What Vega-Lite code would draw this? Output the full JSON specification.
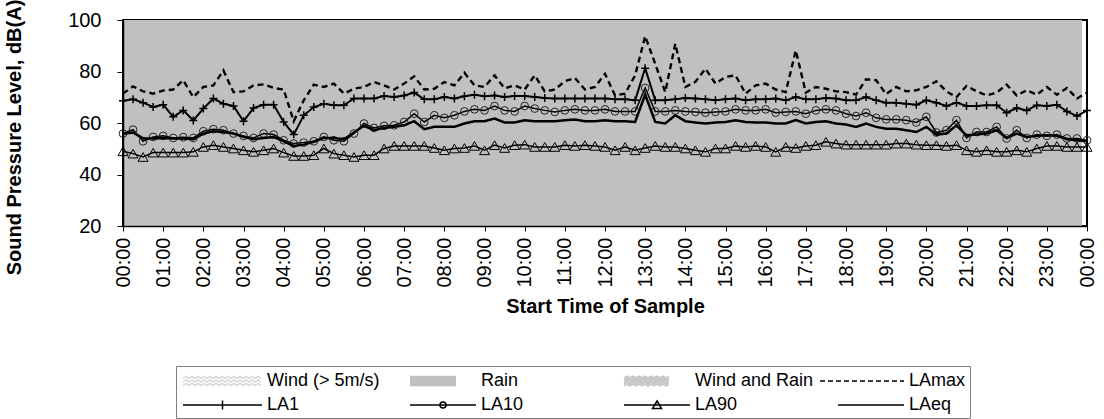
{
  "$schema": "https://vega.github.io/schema/vega-lite/v6.json",
  "width": 964,
  "height": 206,
  "autosize": {"type": "none"},
  "padding": {"left": 123, "top": 20, "right": 17, "bottom": 193},
  "config": {
    "font": "Liberation Sans",
    "view": {"stroke": "black", "strokeWidth": 2},
    "axis": {"grid": false, "labelFont": "Liberation Sans", "titleFont": "Liberation Sans", "labelColor": "black", "titleColor": "black", "tickColor": "black", "domainColor": "black"}
  },
  "datasets": {
    "noise": [
      {"t":"2000-01-01T00:00","LAmax":71.4,"LA1":68.6,"LA10":55.9,"LA90":49.0,"LAeq":55.8},
      {"t":"2000-01-01T00:15","LAmax":74.2,"LA1":69.2,"LA10":57.4,"LA90":48.1,"LAeq":56.3},
      {"t":"2000-01-01T00:30","LAmax":72.3,"LA1":67.9,"LA10":52.9,"LA90":46.8,"LAeq":54.0},
      {"t":"2000-01-01T00:45","LAmax":71.4,"LA1":66.2,"LA10":54.6,"LA90":48.5,"LAeq":54.0},
      {"t":"2000-01-01T01:00","LAmax":72.6,"LA1":67.1,"LA10":55.0,"LA90":48.5,"LAeq":54.2},
      {"t":"2000-01-01T01:15","LAmax":73.0,"LA1":62.4,"LA10":54.2,"LA90":48.5,"LAeq":54.0},
      {"t":"2000-01-01T01:30","LAmax":76.6,"LA1":64.9,"LA10":54.5,"LA90":48.5,"LAeq":54.0},
      {"t":"2000-01-01T01:45","LAmax":70.0,"LA1":61.0,"LA10":54.2,"LA90":48.8,"LAeq":53.7},
      {"t":"2000-01-01T02:00","LAmax":74.0,"LA1":65.6,"LA10":56.8,"LA90":50.7,"LAeq":55.9},
      {"t":"2000-01-01T02:15","LAmax":74.6,"LA1":69.5,"LA10":57.6,"LA90":51.4,"LAeq":56.8},
      {"t":"2000-01-01T02:30","LAmax":80.4,"LA1":67.5,"LA10":57.2,"LA90":50.7,"LAeq":56.5},
      {"t":"2000-01-01T02:45","LAmax":72.0,"LA1":66.6,"LA10":55.9,"LA90":50.1,"LAeq":55.9},
      {"t":"2000-01-01T03:00","LAmax":72.3,"LA1":60.7,"LA10":55.0,"LA90":49.4,"LAeq":54.6},
      {"t":"2000-01-01T03:15","LAmax":74.6,"LA1":65.8,"LA10":54.2,"LA90":48.8,"LAeq":53.7},
      {"t":"2000-01-01T03:30","LAmax":75.0,"LA1":67.1,"LA10":55.9,"LA90":49.4,"LAeq":54.2},
      {"t":"2000-01-01T03:45","LAmax":73.6,"LA1":67.1,"LA10":55.5,"LA90":50.1,"LAeq":54.6},
      {"t":"2000-01-01T04:00","LAmax":73.0,"LA1":60.4,"LA10":53.3,"LA90":48.5,"LAeq":52.9},
      {"t":"2000-01-01T04:15","LAmax":60.7,"LA1":55.5,"LA10":52.0,"LA90":47.2,"LAeq":51.1},
      {"t":"2000-01-01T04:30","LAmax":68.8,"LA1":63.0,"LA10":52.4,"LA90":47.2,"LAeq":51.6},
      {"t":"2000-01-01T04:45","LAmax":74.9,"LA1":66.2,"LA10":52.9,"LA90":47.5,"LAeq":52.7},
      {"t":"2000-01-01T05:00","LAmax":74.0,"LA1":67.5,"LA10":54.6,"LA90":50.1,"LAeq":54.2},
      {"t":"2000-01-01T05:15","LAmax":75.3,"LA1":66.9,"LA10":53.3,"LA90":48.1,"LAeq":54.2},
      {"t":"2000-01-01T05:30","LAmax":71.4,"LA1":66.9,"LA10":52.9,"LA90":47.5,"LAeq":53.7},
      {"t":"2000-01-01T05:45","LAmax":73.3,"LA1":69.5,"LA10":55.9,"LA90":46.8,"LAeq":56.3},
      {"t":"2000-01-01T06:00","LAmax":74.0,"LA1":69.5,"LA10":59.8,"LA90":47.5,"LAeq":58.9},
      {"t":"2000-01-01T06:15","LAmax":75.9,"LA1":69.5,"LA10":58.1,"LA90":47.5,"LAeq":57.2},
      {"t":"2000-01-01T06:30","LAmax":74.6,"LA1":70.5,"LA10":58.9,"LA90":50.1,"LAeq":58.1},
      {"t":"2000-01-01T06:45","LAmax":73.0,"LA1":70.1,"LA10":59.1,"LA90":51.1,"LAeq":58.5},
      {"t":"2000-01-01T07:00","LAmax":75.3,"LA1":70.7,"LA10":60.4,"LA90":51.1,"LAeq":59.1},
      {"t":"2000-01-01T07:15","LAmax":78.1,"LA1":71.8,"LA10":63.6,"LA90":51.1,"LAeq":60.7},
      {"t":"2000-01-01T07:30","LAmax":73.0,"LA1":69.2,"LA10":60.4,"LA90":51.1,"LAeq":57.6},
      {"t":"2000-01-01T07:45","LAmax":73.3,"LA1":69.2,"LA10":63.0,"LA90":50.3,"LAeq":58.5},
      {"t":"2000-01-01T08:00","LAmax":75.9,"LA1":70.1,"LA10":62.0,"LA90":49.4,"LAeq":58.5},
      {"t":"2000-01-01T08:15","LAmax":74.6,"LA1":69.5,"LA10":63.0,"LA90":50.1,"LAeq":58.5},
      {"t":"2000-01-01T08:30","LAmax":79.5,"LA1":70.4,"LA10":64.5,"LA90":50.3,"LAeq":59.8},
      {"t":"2000-01-01T08:45","LAmax":74.6,"LA1":71.0,"LA10":65.3,"LA90":51.1,"LAeq":60.7},
      {"t":"2000-01-01T09:00","LAmax":74.0,"LA1":70.4,"LA10":64.9,"LA90":49.4,"LAeq":60.7},
      {"t":"2000-01-01T09:15","LAmax":78.5,"LA1":70.7,"LA10":66.6,"LA90":51.4,"LAeq":61.7},
      {"t":"2000-01-01T09:30","LAmax":73.5,"LA1":70.1,"LA10":64.9,"LA90":50.3,"LAeq":60.2},
      {"t":"2000-01-01T09:45","LAmax":74.6,"LA1":70.5,"LA10":64.5,"LA90":51.4,"LAeq":60.2},
      {"t":"2000-01-01T10:00","LAmax":73.0,"LA1":70.5,"LA10":66.6,"LA90":51.6,"LAeq":61.1},
      {"t":"2000-01-01T10:15","LAmax":78.5,"LA1":70.1,"LA10":65.6,"LA90":50.7,"LAeq":60.7},
      {"t":"2000-01-01T10:30","LAmax":72.3,"LA1":69.7,"LA10":64.9,"LA90":50.7,"LAeq":60.7},
      {"t":"2000-01-01T10:45","LAmax":73.0,"LA1":69.5,"LA10":64.3,"LA90":50.7,"LAeq":60.7},
      {"t":"2000-01-01T11:00","LAmax":76.2,"LA1":69.5,"LA10":64.9,"LA90":51.4,"LAeq":61.1},
      {"t":"2000-01-01T11:15","LAmax":77.5,"LA1":69.5,"LA10":65.3,"LA90":51.1,"LAeq":61.4},
      {"t":"2000-01-01T11:30","LAmax":73.0,"LA1":69.5,"LA10":64.9,"LA90":51.4,"LAeq":60.7},
      {"t":"2000-01-01T11:45","LAmax":74.0,"LA1":69.5,"LA10":64.9,"LA90":51.1,"LAeq":60.7},
      {"t":"2000-01-01T12:00","LAmax":79.1,"LA1":69.5,"LA10":65.3,"LA90":50.7,"LAeq":61.1},
      {"t":"2000-01-01T12:15","LAmax":70.7,"LA1":69.2,"LA10":64.5,"LA90":49.4,"LAeq":60.7},
      {"t":"2000-01-01T12:30","LAmax":71.4,"LA1":69.2,"LA10":64.5,"LA90":50.7,"LAeq":60.7},
      {"t":"2000-01-01T12:45","LAmax":78.5,"LA1":68.8,"LA10":64.5,"LA90":49.4,"LAeq":60.4},
      {"t":"2000-01-01T13:00","LAmax":93.7,"LA1":81.3,"LA10":73.6,"LA90":50.3,"LAeq":71.0},
      {"t":"2000-01-01T13:15","LAmax":83.0,"LA1":68.8,"LA10":64.5,"LA90":51.1,"LAeq":60.4},
      {"t":"2000-01-01T13:30","LAmax":72.0,"LA1":68.8,"LA10":64.5,"LA90":50.7,"LAeq":59.8},
      {"t":"2000-01-01T13:45","LAmax":90.8,"LA1":69.2,"LA10":64.9,"LA90":50.7,"LAeq":63.0},
      {"t":"2000-01-01T14:00","LAmax":74.0,"LA1":69.7,"LA10":64.5,"LA90":50.1,"LAeq":60.7},
      {"t":"2000-01-01T14:15","LAmax":76.0,"LA1":69.5,"LA10":64.3,"LA90":49.4,"LAeq":60.2},
      {"t":"2000-01-01T14:30","LAmax":81.1,"LA1":69.2,"LA10":64.0,"LA90":48.8,"LAeq":59.8},
      {"t":"2000-01-01T14:45","LAmax":75.3,"LA1":68.8,"LA10":64.3,"LA90":50.1,"LAeq":60.2},
      {"t":"2000-01-01T15:00","LAmax":77.9,"LA1":69.2,"LA10":64.5,"LA90":50.1,"LAeq":60.4},
      {"t":"2000-01-01T15:15","LAmax":78.5,"LA1":69.5,"LA10":65.3,"LA90":51.1,"LAeq":61.1},
      {"t":"2000-01-01T15:30","LAmax":71.4,"LA1":68.8,"LA10":64.9,"LA90":50.7,"LAeq":60.4},
      {"t":"2000-01-01T15:45","LAmax":74.6,"LA1":69.2,"LA10":64.9,"LA90":51.1,"LAeq":60.2},
      {"t":"2000-01-01T16:00","LAmax":75.3,"LA1":69.2,"LA10":65.3,"LA90":50.7,"LAeq":60.2},
      {"t":"2000-01-01T16:15","LAmax":73.0,"LA1":69.5,"LA10":64.0,"LA90":48.8,"LAeq":59.8},
      {"t":"2000-01-01T16:30","LAmax":72.0,"LA1":68.8,"LA10":64.3,"LA90":50.7,"LAeq":59.8},
      {"t":"2000-01-01T16:45","LAmax":88.2,"LA1":70.1,"LA10":64.5,"LA90":50.3,"LAeq":61.1},
      {"t":"2000-01-01T17:00","LAmax":71.8,"LA1":69.2,"LA10":63.6,"LA90":51.1,"LAeq":59.8},
      {"t":"2000-01-01T17:15","LAmax":74.0,"LA1":69.2,"LA10":64.9,"LA90":51.4,"LAeq":60.4},
      {"t":"2000-01-01T17:30","LAmax":73.3,"LA1":69.7,"LA10":65.3,"LA90":52.7,"LAeq":60.7},
      {"t":"2000-01-01T17:45","LAmax":72.3,"LA1":69.5,"LA10":64.9,"LA90":52.0,"LAeq":59.8},
      {"t":"2000-01-01T18:00","LAmax":72.0,"LA1":68.8,"LA10":63.6,"LA90":51.6,"LAeq":59.4},
      {"t":"2000-01-01T18:15","LAmax":71.0,"LA1":68.8,"LA10":62.7,"LA90":51.6,"LAeq":58.5},
      {"t":"2000-01-01T18:30","LAmax":77.0,"LA1":70.1,"LA10":64.0,"LA90":51.6,"LAeq":59.8},
      {"t":"2000-01-01T18:45","LAmax":76.6,"LA1":68.8,"LA10":62.0,"LA90":51.6,"LAeq":58.5},
      {"t":"2000-01-01T19:00","LAmax":71.2,"LA1":67.9,"LA10":61.4,"LA90":51.6,"LAeq":57.8},
      {"t":"2000-01-01T19:15","LAmax":74.0,"LA1":67.9,"LA10":61.4,"LA90":52.0,"LAeq":57.8},
      {"t":"2000-01-01T19:30","LAmax":72.3,"LA1":67.5,"LA10":61.1,"LA90":52.0,"LAeq":57.2},
      {"t":"2000-01-01T19:45","LAmax":72.7,"LA1":67.1,"LA10":60.2,"LA90":51.6,"LAeq":56.5},
      {"t":"2000-01-01T20:00","LAmax":74.0,"LA1":68.8,"LA10":62.4,"LA90":51.4,"LAeq":58.5},
      {"t":"2000-01-01T20:15","LAmax":76.2,"LA1":67.9,"LA10":56.3,"LA90":51.4,"LAeq":55.5},
      {"t":"2000-01-01T20:30","LAmax":72.3,"LA1":66.6,"LA10":57.2,"LA90":51.1,"LAeq":55.9},
      {"t":"2000-01-01T20:45","LAmax":70.0,"LA1":67.9,"LA10":61.1,"LA90":51.4,"LAeq":59.1},
      {"t":"2000-01-01T21:00","LAmax":74.4,"LA1":66.6,"LA10":54.2,"LA90":49.4,"LAeq":55.2},
      {"t":"2000-01-01T21:15","LAmax":72.3,"LA1":66.6,"LA10":56.5,"LA90":48.8,"LAeq":55.5},
      {"t":"2000-01-01T21:30","LAmax":70.7,"LA1":66.9,"LA10":56.5,"LA90":49.4,"LAeq":55.9},
      {"t":"2000-01-01T21:45","LAmax":71.8,"LA1":66.9,"LA10":58.5,"LA90":48.8,"LAeq":57.2},
      {"t":"2000-01-01T22:00","LAmax":74.9,"LA1":64.0,"LA10":54.0,"LA90":48.8,"LAeq":54.2},
      {"t":"2000-01-01T22:15","LAmax":70.7,"LA1":65.8,"LA10":57.2,"LA90":49.4,"LAeq":55.9},
      {"t":"2000-01-01T22:30","LAmax":72.7,"LA1":64.9,"LA10":54.2,"LA90":48.8,"LAeq":54.6},
      {"t":"2000-01-01T22:45","LAmax":71.0,"LA1":66.9,"LA10":55.5,"LA90":50.1,"LAeq":55.0},
      {"t":"2000-01-01T23:00","LAmax":74.0,"LA1":66.6,"LA10":55.0,"LA90":51.1,"LAeq":55.2},
      {"t":"2000-01-01T23:15","LAmax":71.0,"LA1":67.1,"LA10":55.5,"LA90":51.1,"LAeq":55.0},
      {"t":"2000-01-01T23:30","LAmax":73.6,"LA1":64.5,"LA10":54.0,"LA90":50.7,"LAeq":53.7},
      {"t":"2000-01-01T23:45","LAmax":69.5,"LA1":62.7,"LA10":54.0,"LA90":50.7,"LAeq":53.3},
      {"t":"2000-01-02T00:00","LAmax":71.8,"LA1":64.9,"LA10":53.3,"LA90":50.7,"LAeq":52.9}
    ],
    "rain": [{"start": "2000-01-01T00:00", "end": "2000-01-01T23:52:30"}],
    "legend": [
      {"series": "Wind (> 5m/s)"}, {"series": "Rain"}, {"series": "Wind and Rain"}, {"series": "LAmax"},
      {"series": "LA1"}, {"series": "LA10"}, {"series": "LA90"}, {"series": "LAeq"}
    ]
  },
  "layer": [
    {
      "data": {"name": "rain"},
      "mark": {"type": "rect", "color": "#c0c0c0"},
      "encoding": {
        "x": {"field": "start", "type": "temporal",
              "scale": {"domain": [{"year": 2000, "month": 1, "date": 1, "hours": 0}, {"year": 2000, "month": 1, "date": 2, "hours": 0}], "nice": false},
              "axis": {"orient": "bottom", "format": "%H:%M", "tickCount": 24, "labelAngle": -90,
                       "labelFontSize": 20, "labelPadding": 6, "tickSize": 5, "domainWidth": 1.5, "labelOverlap": false, "labelFlush": false,
                       "title": "Start Time of Sample", "titleFontSize": 20, "titleFontWeight": "bold", "titleY": 70, "titleBaseline": "top", "zindex": 1}},
        "x2": {"field": "end"}
      }
    },
    {
      "data": {"name": "noise"},
      "mark": {"type": "line", "color": "black", "strokeWidth": 2.4, "strokeDash": [6, 4]},
      "encoding": {
        "x": {"field": "t", "type": "temporal"},
        "y": {"field": "LAmax", "type": "quantitative", "scale": {"domain": [20, 100], "nice": false, "zero": false},
              "axis": {"orient": "left", "values": [20, 30, 40, 50, 60, 70, 80, 90, 100], "labelFontSize": 20, "labelPadding": 16, "tickSize": 6, "domainWidth": 1.5,
                       "title": "Sound Pressure Level, dB(A)", "titleFontSize": 20, "titleFontWeight": "bold", "titleX": -109, "titleY": 117, "titleBaseline": "middle", "titleAlign": "center", "zindex": 1}}
      }
    },
    {
      "data": {"name": "noise"},
      "mark": {"type": "line", "color": "black", "strokeWidth": 2},
      "encoding": {"x": {"field": "t", "type": "temporal"}, "y": {"field": "LA1", "type": "quantitative"}}
    },
    {
      "data": {"name": "noise"},
      "mark": {"type": "point", "shape": "M-1,0H1M0,-1V1", "size": 64, "filled": false, "color": "black", "strokeWidth": 1.5, "opacity": 1},
      "encoding": {"x": {"field": "t", "type": "temporal"}, "y": {"field": "LA1", "type": "quantitative"}}
    },
    {
      "data": {"name": "noise"},
      "mark": {"type": "line", "color": "black", "strokeWidth": 1.5},
      "encoding": {"x": {"field": "t", "type": "temporal"}, "y": {"field": "LA10", "type": "quantitative"}}
    },
    {
      "data": {"name": "noise"},
      "mark": {"type": "point", "shape": "circle", "size": 60, "filled": false, "color": "#222222", "strokeWidth": 1, "opacity": 1},
      "encoding": {"x": {"field": "t", "type": "temporal"}, "y": {"field": "LA10", "type": "quantitative"}}
    },
    {
      "data": {"name": "noise"},
      "mark": {"type": "line", "color": "black", "strokeWidth": 1.5},
      "encoding": {"x": {"field": "t", "type": "temporal"}, "y": {"field": "LA90", "type": "quantitative"}}
    },
    {
      "data": {"name": "noise"},
      "mark": {"type": "point", "shape": "triangle-up", "size": 100, "filled": false, "color": "black", "strokeWidth": 1, "opacity": 1},
      "encoding": {"x": {"field": "t", "type": "temporal"}, "y": {"field": "LA90", "type": "quantitative"}}
    },
    {
      "data": {"name": "noise"},
      "mark": {"type": "line", "color": "black", "strokeWidth": 2.5},
      "encoding": {"x": {"field": "t", "type": "temporal"}, "y": {"field": "LAeq", "type": "quantitative"}}
    },
    {
      "data": {"name": "legend"},
      "mark": {"type": "point", "filled": false, "clip": true, "strokeWidth": 1.5, "opacity": 1},
      "encoding": {
        "x": {"datum": {"year": 2000, "month": 1, "date": 1, "hours": 12}, "type": "temporal"},
        "y": {"datum": 0, "type": "quantitative"},
        "stroke": {"field": "series", "type": "nominal",
          "scale": {"domain": ["Wind (> 5m/s)", "LA1", "Rain", "LA10", "Wind and Rain", "LA90", "LAmax", "LAeq"],
                    "range": ["#d6d6d6", "black", "#c0c0c0", "black", "#c0c0c0", "black", "black", "black"]},
          "legend": {"orient": "none", "legendX": 53, "legendY": 346, "columns": 4, "title": null, "symbolSize": 400, "symbolStrokeWidth": 1.5, "symbolOpacity": 1,
                     "symbolOffset": 16, "labelFontSize": 18, "labelFont": "Liberation Sans", "labelColor": "black", "labelOffset": 49, "labelLimit": 0,
                     "columnPadding": 3, "rowPadding": 4, "gridAlign": "all", "strokeColor": "#808080", "padding": 4}},
        "shape": {"field": "series", "type": "nominal",
          "scale": {"domain": ["Wind (> 5m/s)", "LA1", "Rain", "LA10", "Wind and Rain", "LA90", "LAmax", "LAeq"],
                    "range": [
                      "M-2.9,0H-2.899M-2.4,-0.25L-2.1,-0.45L-1.8,-0.25L-1.5,-0.45L-1.2,-0.25L-0.9,-0.45L-0.6,-0.25L-0.3,-0.45L0,-0.25L0.3,-0.45L0.6,-0.25L0.9,-0.45L1.2,-0.25L1.5,-0.45L1.8,-0.25L2.1,-0.45L2.4,-0.25L2.7,-0.45L3,-0.25L3.3,-0.45L3.6,-0.25L3.9,-0.45L4.2,-0.25L4.5,-0.45L4.8,-0.25L5.1,-0.45L5.4,-0.25M-2.4,0.1L-2.1,-0.1L-1.8,0.1L-1.5,-0.1L-1.2,0.1L-0.9,-0.1L-0.6,0.1L-0.3,-0.1L0,0.1L0.3,-0.1L0.6,0.1L0.9,-0.1L1.2,0.1L1.5,-0.1L1.8,0.1L2.1,-0.1L2.4,0.1L2.7,-0.1L3,0.1L3.3,-0.1L3.6,0.1L3.9,-0.1L4.2,0.1L4.5,-0.1L4.8,0.1L5.1,-0.1L5.4,0.1M-2.4,0.45L-2.1,0.25L-1.8,0.45L-1.5,0.25L-1.2,0.45L-0.9,0.25L-0.6,0.45L-0.3,0.25L0,0.45L0.3,0.25L0.6,0.45L0.9,0.25L1.2,0.45L1.5,0.25L1.8,0.45L2.1,0.25L2.4,0.45L2.7,0.25L3,0.45L3.3,0.25L3.6,0.45L3.9,0.25L4.2,0.45L4.5,0.25L4.8,0.45L5.1,0.25L5.4,0.45",
                      "M-2.9,0H-2.899M-2.4,0H5.5M1.55,-0.45V0.45",
                      "M-2.9,0H-2.899M-1.1,-0.45H3.5M-1.1,-0.35H3.5M-1.1,-0.25H3.5M-1.1,-0.15H3.5M-1.1,-0.05H3.5M-1.1,0.05H3.5M-1.1,0.15H3.5M-1.1,0.25H3.5M-1.1,0.35H3.5M-1.1,0.45H3.5",
                      "M-2.9,0H-2.899M-1.1,0H5.5M1.9,0A0.3,0.3 0 1,1 2.5,0A0.3,0.3 0 1,1 1.9,0",
                      "M-2.9,0H-2.899M-1.1,-0.32L-0.8,-0.48L-0.5,-0.32L-0.2,-0.48L0.1,-0.32L0.4,-0.48L0.7,-0.32L1,-0.48L1.3,-0.32L1.6,-0.48L1.9,-0.32L2.2,-0.48L2.5,-0.32L2.8,-0.48L3.1,-0.32L3.4,-0.48M-1.1,-0.12L-0.8,-0.28L-0.5,-0.12L-0.2,-0.28L0.1,-0.12L0.4,-0.28L0.7,-0.12L1,-0.28L1.3,-0.12L1.6,-0.28L1.9,-0.12L2.2,-0.28L2.5,-0.12L2.8,-0.28L3.1,-0.12L3.4,-0.28M-1.1,0.08L-0.8,-0.08L-0.5,0.08L-0.2,-0.08L0.1,0.08L0.4,-0.08L0.7,0.08L1,-0.08L1.3,0.08L1.6,-0.08L1.9,0.08L2.2,-0.08L2.5,0.08L2.8,-0.08L3.1,0.08L3.4,-0.08M-1.1,0.28L-0.8,0.12L-0.5,0.28L-0.2,0.12L0.1,0.28L0.4,0.12L0.7,0.28L1,0.12L1.3,0.28L1.6,0.12L1.9,0.28L2.2,0.12L2.5,0.28L2.8,0.12L3.1,0.28L3.4,0.12M-1.1,0.48L-0.8,0.32L-0.5,0.48L-0.2,0.32L0.1,0.48L0.4,0.32L0.7,0.48L1,0.32L1.3,0.48L1.6,0.32L1.9,0.48L2.2,0.32L2.5,0.48L2.8,0.32L3.1,0.48L3.4,0.32",
                      "M-2.9,0H-2.899M-1.1,0H5.5M2.2,-0.4L2.65,0.35L1.75,0.35Z",
                      "M-2.9,0H-2.4M-2.1,0H-1.6M-1.3,0H-0.8M-0.5,0H0M0.3,0H0.8M1.1,0H1.6M1.9,0H2.4M2.7,0H3.2M3.5,0H4M4.3,0H4.8M5.1,0H5.5",
                      "M-2.9,0H-2.899M-1.1,0H5.5"
                    ]},
          "legend": {"orient": "none", "legendX": 53, "legendY": 346, "columns": 4, "title": null, "symbolSize": 400, "symbolStrokeWidth": 1.5, "symbolOpacity": 1,
                     "symbolOffset": 16, "labelFontSize": 18, "labelFont": "Liberation Sans", "labelColor": "black", "labelOffset": 49, "labelLimit": 0,
                     "columnPadding": 3, "rowPadding": 4, "gridAlign": "all", "strokeColor": "#808080", "padding": 4}}
      }
    }
  ]
}
